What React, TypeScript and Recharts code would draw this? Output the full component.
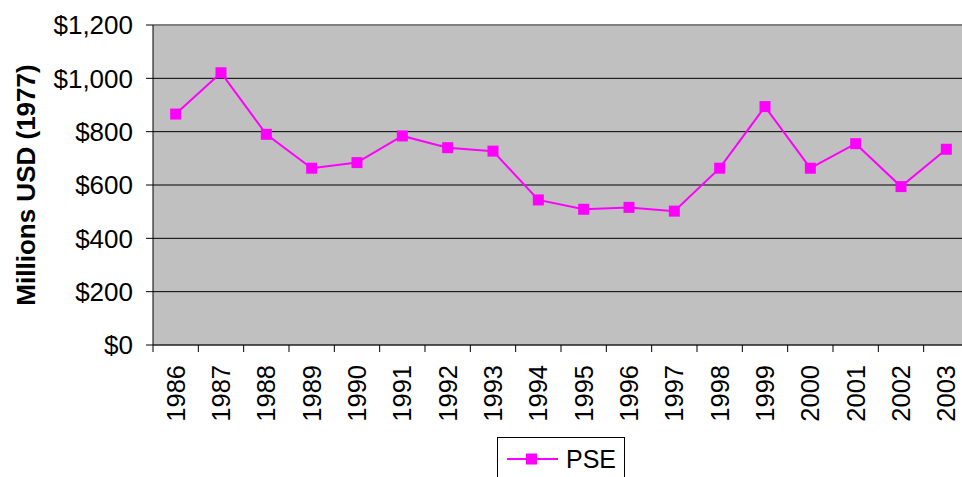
import { CartesianGrid, Label, Legend, Line, LineChart, ReferenceLine, XAxis, YAxis } from "recharts";

const years = ["1986", "1987", "1988", "1989", "1990", "1991", "1992", "1993", "1994", "1995", "1996", "1997", "1998", "1999", "2000", "2001", "2002", "2003"];
const pse = [866, 1021, 790, 663, 684, 784, 740, 727, 544, 509, 516, 502, 663, 894, 663, 755, 594, 734];
const yTicks = [0, 200, 400, 600, 800, 1000, 1200];

const data = years.map((year, i) => ({ year, pse: pse[i] }));

const FONT = "'Liberation Sans', Arial, sans-serif";
const MAGENTA = "#FF00FF";
const CHART_W = 969;
const Y_AXIS_W = 153;
const STEP = (CHART_W - Y_AXIS_W) / years.length;

function SquareDot(props: any) {
  const { cx, cy } = props;
  if (cx == null || cy == null) return null;
  return <rect x={cx - 5.5} y={cy - 5.5} width={11} height={11} fill={MAGENTA} />;
}

// year labels run bottom-to-top, tick marks sit on the category boundaries
function YearTick(props: any) {
  const { x, y, payload } = props;
  return (
    <g transform={`translate(${x},${y})`}>
      <line x1={-STEP / 2} x2={-STEP / 2} y1={0} y2={7} stroke="#000" />
      <text
        transform="rotate(-90)"
        x={-20}
        y={0}
        dy="0.355em"
        textAnchor="end"
        fill="#000"
        fontSize={25.5}
        fontFamily={FONT}
      >
        {payload.value}
      </text>
    </g>
  );
}

function LegendBox() {
  return (
    <div
      style={{
        width: 128,
        height: 40,
        boxSizing: "border-box",
        border: "1px solid #000",
        borderBottom: "none",
        background: "#fff",
        position: "relative",
      }}
    >
      <svg width={128} height={40} style={{ position: "absolute", left: -1, top: -1 }}>
        <line x1={10} x2={61} y1={22} y2={22} stroke={MAGENTA} strokeWidth={2} />
        <rect x={29} y={16.5} width={11} height={11} fill={MAGENTA} />
        <text x={69} y={31} fontSize={25} fontFamily={FONT} fill="#000">
          PSE
        </text>
      </svg>
    </div>
  );
}

export default function App() {
  return (
    <div style={{ position: "absolute", left: 0, top: 0, width: 962, height: 477, overflow: "hidden", background: "#fff" }}>
      <LineChart width={CHART_W} height={477} data={data} margin={{ top: 25, right: 0, left: 0, bottom: 0 }}>
        <CartesianGrid fill="#C0C0C0" stroke="#000" vertical={false} />
        <ReferenceLine y={1200} stroke="#808080" strokeWidth={2} />
        <XAxis
          dataKey="year"
          interval={0}
          height={92}
          padding={{ left: STEP / 2, right: STEP / 2 }}
          tickSize={0}
          tickMargin={0}
          tickLine={false}
          axisLine={{ stroke: "#333" }}
          tick={<YearTick />}
        />
        <YAxis
          domain={[0, 1200]}
          ticks={yTicks}
          width={Y_AXIS_W}
          tickSize={7}
          tickMargin={13}
          axisLine={{ stroke: "#000" }}
          tickLine={{ stroke: "#000" }}
          tick={{ fill: "#000", fontSize: 26, fontFamily: FONT }}
          tickFormatter={(v) => `$${v.toLocaleString("en-US")}`}
        >
          <Label
            content={(p: any) => {
              const vb = p.viewBox || { y: 25, height: 320 };
              const cy = vb.y + vb.height / 2;
              return (
                <text
                  x={26}
                  y={cy}
                  transform={`rotate(-90, 26, ${cy})`}
                  textAnchor="middle"
                  dominantBaseline="central"
                  fontSize={26}
                  fontWeight="bold"
                  fontFamily={FONT}
                  fill="#000"
                >
                  Millions USD (1977)
                </text>
              );
            }}
          />
        </YAxis>
        <Legend
          verticalAlign="bottom"
          content={<LegendBox />}
          wrapperStyle={{ left: 497, width: 128, height: 40 }}
        />
        <Line
          type="linear"
          dataKey="pse"
          name="PSE"
          stroke={MAGENTA}
          strokeWidth={2}
          dot={<SquareDot />}
          activeDot={false}
          isAnimationActive={false}
        />
      </LineChart>
    </div>
  );
}
